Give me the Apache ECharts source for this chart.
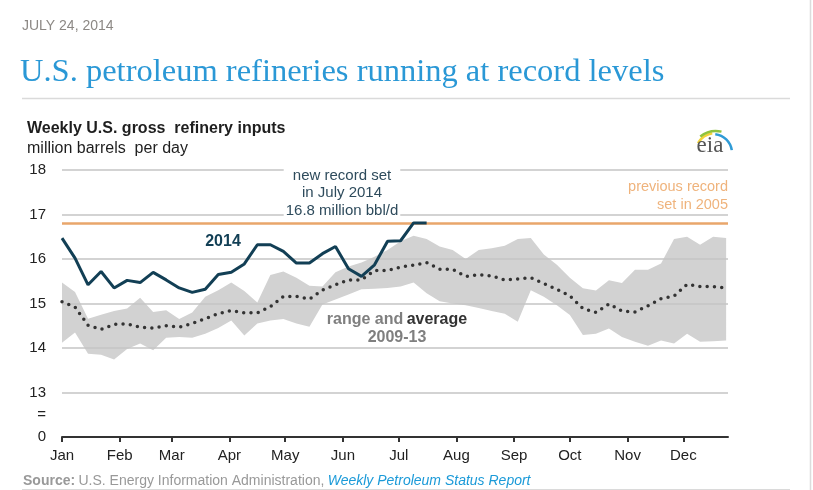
<!DOCTYPE html>
<html>
<head>
<meta charset="utf-8">
<script src="https://cdn.jsdelivr.net/npm/echarts@6.0.0/dist/echarts.min.js"></script>
<style>
  html, body { margin: 0; padding: 0; background: #fff; }
  #chart { width: 813px; height: 490px; }
</style>
</head>
<body>
<div id="chart"></div>
<script>
// weekly refinery inputs, million barrels per day
var months = ['Jan', 'Feb', 'Mar', 'Apr', 'May', 'Jun', 'Jul', 'Aug', 'Sep', 'Oct', 'Nov', 'Dec'];
var monthStartDays = [0, 31, 59, 90, 120, 151, 181, 212, 243, 273, 304, 334];
var yLabelValues = [12, 12.5, 13, 14, 15, 16, 17, 18];

var series2014 = [16.47, 16.02, 15.42, 15.72, 15.35, 15.52, 15.47, 15.70, 15.53, 15.35,
	15.25, 15.32, 15.65, 15.70, 15.89, 16.32, 16.32, 16.17, 15.91, 15.91,
	16.12, 16.28, 15.78, 15.61, 15.87, 16.40, 16.41, 16.81, 16.81];

var avg0913 = [15.04, 14.92, 14.51, 14.42, 14.53, 14.54, 14.47, 14.45, 14.50, 14.47, 14.55, 14.66, 14.77,
	14.84, 14.79, 14.79, 14.93, 15.16, 15.16, 15.10, 15.30, 15.42, 15.53, 15.53, 15.74, 15.74,
	15.82, 15.86, 15.92, 15.77, 15.77, 15.61, 15.65, 15.62, 15.53, 15.55, 15.58, 15.45, 15.32,
	15.17, 14.89, 14.80, 14.99, 14.83, 14.81, 14.95, 15.11, 15.17, 15.43, 15.38, 15.38, 15.35];

var high0913 = [15.47, 15.26, 14.66, 14.75, 14.83, 14.89, 15.13, 14.81, 14.85, 14.65, 14.80, 15.15, 15.30,
	15.47, 15.28, 15.02, 15.64, 15.72, 15.58, 15.40, 15.38, 15.70, 15.83, 15.92, 16.05, 16.20,
	16.40, 16.52, 16.45, 16.28, 16.20, 16.00, 16.20, 16.24, 16.30, 16.45, 16.47, 16.10, 15.87,
	15.58, 15.34, 15.29, 15.52, 15.46, 15.76, 15.76, 15.90, 16.45, 16.50, 16.32, 16.50, 16.47];

var low0913 = [14.12, 14.35, 13.87, 13.85, 13.74, 13.98, 14.10, 13.95, 14.23, 14.25, 14.23, 14.32, 14.45,
	14.62, 14.28, 14.55, 14.62, 14.65, 14.55, 14.48, 14.98, 15.09, 15.20, 15.32, 15.33, 15.35,
	15.38, 15.47, 15.23, 15.05, 15.00, 14.96, 14.90, 14.83, 14.77, 14.59, 15.30, 15.15, 14.96,
	14.74, 14.29, 14.32, 14.44, 14.25, 14.14, 14.05, 14.17, 14.10, 14.32, 14.14, 14.15, 14.17];

var previousRecord = 16.8;

// week i sits at day 7*i of the year
function weekly(arr) {
	return arr.map(function (v, i) { return [i * 7, v]; });
}

var font = 'Arial, "Liberation Sans", sans-serif';

// range band 2009-13: one polygon, top edge forward then bottom edge back
function renderBand(params, api) {
	var pts = [];
	for (var i = 0; i < high0913.length; i++) pts.push(api.coord([i * 7, high0913[i]]));
	for (var j = low0913.length - 1; j >= 0; j--) pts.push(api.coord([j * 7, low0913[j]]));
	return {
		type: 'polygon',
		shape: { points: pts },
		style: { fill: '#d2d2d2' },
		silent: true
	};
}

var myChart = echarts.init(document.getElementById('chart'));
var option = {
	animation: false,
	textStyle: { fontFamily: font },
	grid: { left: 62, right: 85, top: 170, bottom: 53 },
	xAxis: {
		type: 'value',
		min: 0,
		max: 358,
		z: 4,
		axisLine: { show: true, lineStyle: { color: '#333', width: 2 } },
		axisTick: {
			show: true,
			customValues: monthStartDays,
			length: 5,
			lineStyle: { color: '#333', width: 2 }
		},
		axisLabel: {
			customValues: monthStartDays,
			formatter: function (v) { return months[monthStartDays.indexOf(v)]; },
			color: '#222',
			fontSize: 15,
			margin: 11
		},
		splitLine: { show: false }
	},
	yAxis: {
		type: 'value',
		min: 12,
		max: 18,
		interval: 1,
		z: 2,
		axisLine: { show: false },
		axisTick: { show: false },
		axisLabel: {
			customValues: yLabelValues,
			formatter: function (v) {
				if (v === 12) return '0';
				if (v === 12.5) return '=';
				return String(v);
			},
			color: '#222',
			fontSize: 15,
			margin: 16
		},
		splitLine: { show: true, lineStyle: { color: '#c4c4c4', width: 1.5 } }
	},
	series: [{
		name: 'range 2009-13',
		type: 'custom',
		data: [[0]],
		renderItem: renderBand,
		z: 1,
		markLine: {
			silent: true,
			symbol: 'none',
			label: { show: false },
			lineStyle: { color: '#e9a66b', width: 2.5, type: 'solid' },
			data: [{ yAxis: previousRecord }]
		}
	}, {
		name: 'average 2009-13',
		type: 'line',
		data: weekly(avg0913),
		symbol: 'none',
		z: 3,
		lineStyle: { color: '#333', width: 3.5, type: [0, 7.3], cap: 'round' }
	}, {
		name: '2014',
		type: 'line',
		data: weekly(series2014),
		symbol: 'none',
		z: 6,
		lineStyle: { color: '#123f55', width: 3 }
	}],
	graphic: [
		{ type: 'text', left: 22, top: 19, style: { text: 'JULY 24, 2014', fill: '#8c8884', font: '14px ' + font } },
		{ type: 'text', left: 20, top: 56, style: { text: 'U.S. petroleum refineries running at record levels', fill: '#2a98d6', font: '32.5px "Liberation Serif", "Times New Roman", serif' } },
		{ type: 'line', shape: { x1: 22, y1: 98.5, x2: 790, y2: 98.5 }, style: { stroke: '#dadada', lineWidth: 1.5 } },
		{ type: 'line', shape: { x1: 810.5, y1: 0, x2: 810.5, y2: 490 }, style: { stroke: '#dcdcdc', lineWidth: 1.5 } },
		{ type: 'text', left: 27, top: 121, style: { text: 'Weekly U.S. gross  refinery inputs', fill: '#1e1e1e', font: 'bold 16px ' + font } },
		{ type: 'text', left: 27, top: 141, style: { text: 'million barrels  per day', fill: '#1e1e1e', font: '16px ' + font } },
		// eia logo
		{ type: 'arc', shape: { cx: 716, cy: 154, r: 21, startAngle: -2.6, endAngle: -1.75 }, style: { stroke: '#f2d33a', lineWidth: 2.5, fill: null } },
		{ type: 'arc', shape: { cx: 716, cy: 156, r: 25, startAngle: -2.25, endAngle: -1.35 }, style: { stroke: '#8fc33f', lineWidth: 2.5, fill: null } },
		{ type: 'arc', shape: { cx: 713, cy: 153, r: 19, startAngle: -1.45, endAngle: -0.15 }, style: { stroke: '#2f9bd6', lineWidth: 2.5, fill: null } },
		{ type: 'text', x: 710, y: 146, style: { text: 'eia', fill: '#555', font: '23px "Liberation Serif", "Times New Roman", serif', align: 'center', verticalAlign: 'middle' } },
		// annotations
		{ type: 'text', x: 342, y: 193, z: 10, style: {
			text: 'new record set\nin July 2014\n16.8 million bbl/d', fill: '#2e4b5c', font: '15px ' + font,
			align: 'center', verticalAlign: 'middle', lineHeight: 17.5, backgroundColor: '#fff', padding: [0, 2]
		} },
		{ type: 'text', x: 728, y: 196, style: {
			text: 'previous record\nset in 2005', fill: '#efb37c', font: '14.5px ' + font,
			align: 'right', verticalAlign: 'middle', lineHeight: 18
		} },
		{ type: 'text', x: 223, y: 242, z: 10, style: { text: '2014', fill: '#123f55', font: 'bold 16px ' + font, align: 'center', verticalAlign: 'middle' } },
		{ type: 'text', x: 397, y: 329, z: 10, style: {
			text: '{g|range and} {k|average}\n{g|2009-13}', align: 'center', verticalAlign: 'middle', lineHeight: 18,
			rich: {
				g: { fill: '#7f7f7f', font: 'bold 16px ' + font, lineHeight: 18 },
				k: { fill: '#333', font: 'bold 16px ' + font, lineHeight: 18 }
			}
		} },
		// source
		{ type: 'text', left: 23, top: 474, style: {
			text: '{b|Source:} {n|U.S. Energy Information Administration,} {l|Weekly Petroleum Status Report}',
			rich: {
				b: { fill: '#999', font: 'bold 14px ' + font },
				n: { fill: '#999', font: '14px ' + font },
				l: { fill: '#1b9ad8', font: 'italic 14px ' + font }
			}
		} },
		{ type: 'line', shape: { x1: 22, y1: 489.5, x2: 790, y2: 489.5 }, style: { stroke: '#dadada', lineWidth: 1 } }
	]
};
myChart.setOption(option);
window.addEventListener('resize', function () {
	myChart.resize();
});
</script>
</body>
</html>
